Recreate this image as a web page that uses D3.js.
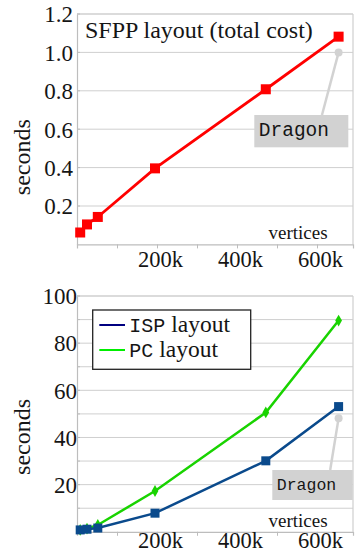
<!DOCTYPE html>
<html>
<head>
<meta charset="utf-8">
<script src="https://cdn.jsdelivr.net/npm/d3@7"></script>
<style>
  html, body { margin: 0; padding: 0; background: #fff; }
  svg { display: block; }
</style>
</head>
<body>
<svg id="chart" width="364" height="553"></svg>
<script>
// Mesh sizes (number of vertices) of the test models
const vertices = [8000, 25000, 52000, 195000, 472000, 654000];

// SFPP layout, total cost in seconds
const sfppSeconds = [0.062, 0.104, 0.143, 0.396, 0.808, 1.082];
// ISP and PC layout times in seconds
const ispSeconds = [0.8, 1.1, 1.6, 7.9, 30.1, 53.1];
const pcSeconds = [0.8, 1.3, 2.9, 17.3, 50.6, 89.6];

// The Dragon model, highlighted in both panels
const dragonVertices = 654000;
const dragonSfpp = 1.0;
const dragonIsp = 48.2;

// Axis ticks
const xTicks = [100000, 200000, 300000, 400000, 500000, 600000];
const xTickLabels = ["", "200k", "", "400k", "", "600k"];
const sfppTicks = [0.2, 0.4, 0.6, 0.8, 1.0, 1.2];
const sfppTickLabels = ["0.2", "0.4", "0.6", "0.8", "1.0", "1.2"];
const layoutGrid = [10, 20, 30, 40, 50, 60, 70, 80, 90, 100];
const layoutTicks = [20, 40, 60, 80, 100];
const layoutTickLabels = ["20", "40", "60", "80", "100"];

const seriesNames = ["ISP layout", "PC layout"];

const SERIF = "'Liberation Serif', 'DejaVu Serif', serif";
const MONO = "'Liberation Mono', 'DejaVu Sans Mono', monospace";
const INK = "#151515";

const svg = d3.select("#chart");
const GRID = "#cfcfcf";
const AXIS = "#bdbdbd";

function serifText(sel, size) {
  return sel.style("font-family", SERIF).style("font-size", size + "px").style("fill", INK);
}

function panel(cfg) {
  const x = d3.scaleLinear().domain([0, 690000]).range([cfg.left, cfg.right]);
  const y = d3.scaleLinear().domain(cfg.yDomain).range([cfg.bottom, cfg.top]);
  const g = svg.append("g");

  // horizontal grid lines
  g.append("g").selectAll("line").data(cfg.grid).join("line")
    .attr("x1", cfg.left).attr("x2", cfg.right)
    .attr("y1", d => y(d)).attr("y2", d => y(d))
    .attr("stroke", GRID).attr("stroke-width", 1);

  // frame: top and right in grid colour
  g.append("line").attr("x1", cfg.left).attr("x2", cfg.right)
    .attr("y1", cfg.top).attr("y2", cfg.top).attr("stroke", GRID).attr("stroke-width", 1.2);
  g.append("line").attr("x1", cfg.right).attr("x2", cfg.right)
    .attr("y1", cfg.top).attr("y2", cfg.bottom).attr("stroke", GRID).attr("stroke-width", 1.2);

  // small inner ticks on the value axis, one per grid line
  g.append("g").selectAll("line").data(cfg.grid).join("line")
    .attr("x1", cfg.left).attr("x2", cfg.left + 3)
    .attr("y1", d => y(d)).attr("y2", d => y(d))
    .attr("stroke", AXIS).attr("stroke-width", 1);

  // y axis
  const yAxis = d3.axisLeft(y).tickValues(cfg.ticks).tickSize(0)
    .tickFormat((d, i) => cfg.tickLabels[i]);
  const ya = g.append("g").attr("transform", `translate(${cfg.left},0)`).call(yAxis);
  ya.attr("font-family", null).attr("font-size", null);
  ya.select(".domain").attr("stroke", AXIS).attr("stroke-width", 1.2);
  serifText(ya.selectAll(".tick text"), 23)
    .attr("x", cfg.labelGap).attr("dy", "0.34em");

  // x axis
  const xAxis = d3.axisBottom(x).tickValues(xTicks).tickSize(4)
    .tickFormat((d, i) => xTickLabels[i]);
  const xa = g.append("g").attr("transform", `translate(0,${cfg.bottom})`).call(xAxis);
  xa.attr("font-family", null).attr("font-size", null);
  xa.select(".domain").attr("stroke", AXIS).attr("stroke-width", 1.2);
  xa.selectAll(".tick line").attr("stroke", AXIS);
  serifText(xa.selectAll(".tick text"), 22.5)
    .attr("y", cfg.xLabelY).attr("dy", 0).attr("dx", 3);

  // axis titles
  serifText(g.append("text"), 24)
    .attr("text-anchor", "middle")
    .attr("transform", `translate(${cfg.yTitleX},${(cfg.top + cfg.bottom) / 2 + cfg.yTitleShift}) rotate(-90)`)
    .text("seconds");
  serifText(g.append("text"), 19)
    .attr("text-anchor", "middle")
    .attr("x", cfg.right - 55).attr("y", cfg.bottom - 5)
    .text("vertices");

  return { g, x, y };
}

function dragonCallout(p, value, box, fontSize) {
  const cx = p.x(dragonVertices), cy = p.y(value);
  p.g.append("line")
    .attr("x1", cx).attr("y1", cy).attr("x2", box.x + box.w * 0.72).attr("y2", box.y)
    .attr("stroke", "#d2d2d2").attr("stroke-width", 2.5);
  p.g.append("circle").attr("cx", cx).attr("cy", cy).attr("r", 4).attr("fill", "#d2d2d2");
  p.g.append("rect").attr("x", box.x).attr("y", box.y).attr("width", box.w).attr("height", box.h)
    .attr("fill", "#d2d2d2");
  p.g.append("text")
    .style("font-family", MONO).style("font-size", fontSize + "px").style("fill", INK)
    .attr("x", box.x + 4.5).attr("y", box.y + box.h * 0.66)
    .text("Dragon");
}

// ---------- upper panel: SFPP layout ----------
const upper = panel({
  left: 77, right: 353, top: 14, bottom: 244.4,
  yDomain: [0, 1.2], grid: sfppTicks, ticks: sfppTicks, tickLabels: sfppTickLabels,
  labelGap: -4, xLabelY: 23, yTitleX: 30, yTitleShift: 28
});

const upperPts = vertices.map((v, i) => [v, sfppSeconds[i]]);
const redLine = d3.line().x(d => upper.x(d[0])).y(d => upper.y(d[1]));

dragonCallout(upper, dragonSfpp, { x: 254.3, y: 115, w: 94, h: 32.3 }, 19.5);

upper.g.append("path").datum(upperPts).attr("d", redLine)
  .attr("fill", "none").attr("stroke", "#ff0000").attr("stroke-width", 2.8);
upper.g.append("g").selectAll("rect").data(upperPts).join("rect")
  .attr("x", d => upper.x(d[0]) - 5).attr("y", d => upper.y(d[1]) - 5)
  .attr("width", 10).attr("height", 10).attr("fill", "#ff0000");

serifText(upper.g.append("text"), 24)
  .attr("x", 85).attr("y", 38).text("SFPP layout (total cost)");

// ---------- lower panel: ISP and PC layouts ----------
const lower = panel({
  left: 77, right: 353, top: 296, bottom: 531.8,
  yDomain: [0, 100], grid: layoutGrid, ticks: layoutTicks, tickLabels: layoutTickLabels,
  labelGap: 0, xLabelY: 16, yTitleX: 30, yTitleShift: 23
});

const BLUE = "#0a4a8c", GREEN = "#19d300";
dragonCallout(lower, dragonIsp, { x: 272.3, y: 470, w: 80.4, h: 30 }, 16.5);

const bLine = d3.line().x(d => lower.x(d[0])).y(d => lower.y(d[1]));
const pcPts = vertices.map((v, i) => [v, pcSeconds[i]]);
const ispPts = vertices.map((v, i) => [v, ispSeconds[i]]);

lower.g.append("path").datum(pcPts).attr("d", bLine)
  .attr("fill", "none").attr("stroke", GREEN).attr("stroke-width", 2.5);
lower.g.append("g").selectAll("path").data(pcPts).join("path")
  .attr("d", d3.symbol(d3.symbolDiamond, 40))
  .attr("transform", d => `translate(${lower.x(d[0])},${lower.y(d[1])})`)
  .attr("fill", GREEN);

lower.g.append("path").datum(ispPts).attr("d", bLine)
  .attr("fill", "none").attr("stroke", BLUE).attr("stroke-width", 2.5);
lower.g.append("g").selectAll("rect").data(ispPts).join("rect")
  .attr("x", d => lower.x(d[0]) - 4.5).attr("y", d => lower.y(d[1]) - 4.5)
  .attr("width", 9).attr("height", 9).attr("fill", BLUE);

// legend
const leg = lower.g.append("g");
leg.append("rect").attr("x", 92.7).attr("y", 310).attr("width", 158).attr("height", 59.3)
  .attr("fill", "#fff").attr("stroke", "#222").attr("stroke-width", 1.3);
const legColors = ["#000080", "#00ee00"];
seriesNames.forEach((name, i) => {
  const yy = 325 + i * 25;
  leg.append("line").attr("x1", 99.3).attr("x2", 125).attr("y1", yy).attr("y2", yy)
    .attr("stroke", legColors[i]).attr("stroke-width", 2);
  const parts = name.split(" ");
  const t = serifText(leg.append("text"), 23.5).attr("x", 129.3).attr("y", yy + 7);
  t.append("tspan").style("font-family", MONO).style("font-size", "20px").text(parts[0]);
  t.append("tspan").text(" " + parts[1]);
});
</script>
</body>
</html>
